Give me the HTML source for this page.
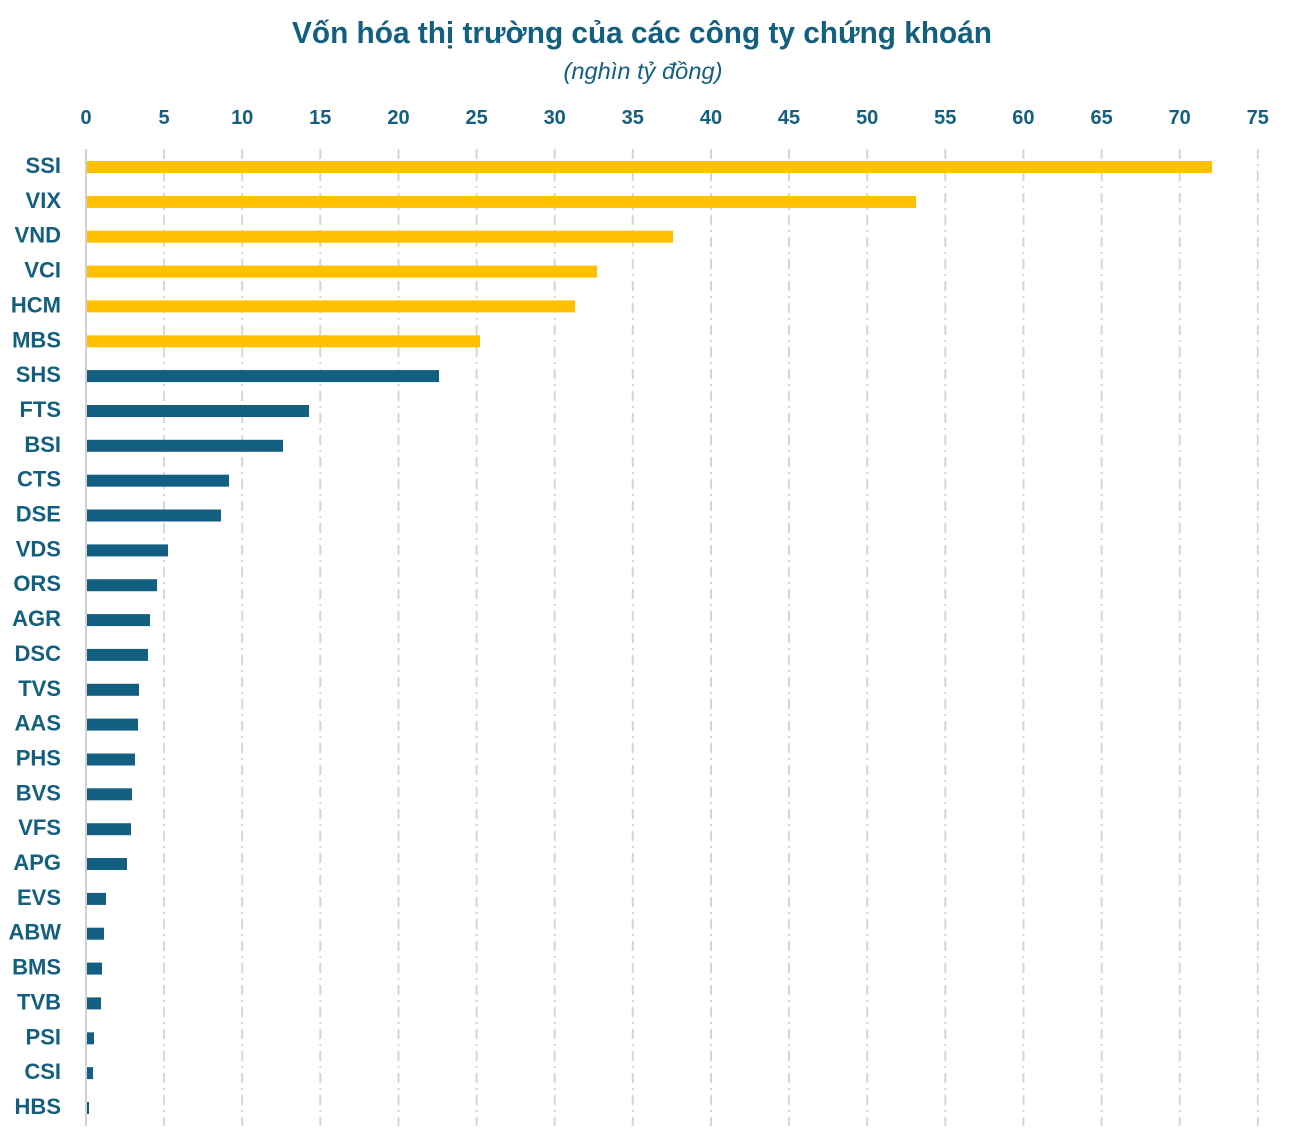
<!DOCTYPE html>
<html>
<head>
<meta charset="utf-8">
<style>
html,body{margin:0;padding:0;background:#fff;}
svg{display:block;}
</style>
</head>
<body>
<svg width="1290" height="1144" viewBox="0 0 1290 1144" xmlns="http://www.w3.org/2000/svg">
<rect width="1290" height="1144" fill="#fff"/>
<text x="642" y="43" text-anchor="middle" font-family="Liberation Sans, DejaVu Sans, sans-serif" font-weight="bold" font-size="31" fill="#135f80" textLength="700" lengthAdjust="spacingAndGlyphs">Vốn hóa thị trường của các công ty chứng khoán</text>
<text x="643" y="79" text-anchor="middle" font-family="Liberation Sans, DejaVu Sans, sans-serif" font-style="italic" font-size="23" fill="#135f80" textLength="159" lengthAdjust="spacingAndGlyphs">(nghìn tỷ đồng)</text>
<g stroke="#d6d6d6" stroke-width="2" stroke-dasharray="10 5 2 5">
<line x1="164.1" y1="149" x2="164.1" y2="1126"/>
<line x1="242.2" y1="149" x2="242.2" y2="1126"/>
<line x1="320.3" y1="149" x2="320.3" y2="1126"/>
<line x1="398.5" y1="149" x2="398.5" y2="1126"/>
<line x1="476.6" y1="149" x2="476.6" y2="1126"/>
<line x1="554.7" y1="149" x2="554.7" y2="1126"/>
<line x1="632.8" y1="149" x2="632.8" y2="1126"/>
<line x1="711" y1="149" x2="711" y2="1126"/>
<line x1="789" y1="149" x2="789" y2="1126"/>
<line x1="867.2" y1="149" x2="867.2" y2="1126"/>
<line x1="945.3" y1="149" x2="945.3" y2="1126"/>
<line x1="1023.4" y1="149" x2="1023.4" y2="1126"/>
<line x1="1101.6" y1="149" x2="1101.6" y2="1126"/>
<line x1="1179.7" y1="149" x2="1179.7" y2="1126"/>
<line x1="1257.8" y1="149" x2="1257.8" y2="1126"/>
</g>
<line x1="86" y1="149" x2="86" y2="1126" stroke="#d0d0d0" stroke-width="2"/>
<g font-family="Liberation Sans, DejaVu Sans, sans-serif" font-weight="bold" font-size="20" fill="#135f80" text-anchor="middle">
<text x="86" y="124">0</text>
<text x="164.1" y="124">5</text>
<text x="242.2" y="124">10</text>
<text x="320.3" y="124">15</text>
<text x="398.5" y="124">20</text>
<text x="476.6" y="124">25</text>
<text x="554.7" y="124">30</text>
<text x="632.8" y="124">35</text>
<text x="711" y="124">40</text>
<text x="789" y="124">45</text>
<text x="867.2" y="124">50</text>
<text x="945.3" y="124">55</text>
<text x="1023.4" y="124">60</text>
<text x="1101.6" y="124">65</text>
<text x="1179.7" y="124">70</text>
<text x="1257.8" y="124">75</text>
</g>
<g fill="#ffc000">
<rect x="87" y="161" width="1125" height="12"/>
<rect x="87" y="195.9" width="829" height="12"/>
<rect x="87" y="230.7" width="586" height="12"/>
<rect x="87" y="265.6" width="510" height="12"/>
<rect x="87" y="300.4" width="488" height="12"/>
<rect x="87" y="335.3" width="393" height="12"/>
</g>
<g fill="#135f82">
<rect x="87" y="370.1" width="352" height="12"/>
<rect x="87" y="405" width="222" height="12"/>
<rect x="87" y="439.8" width="196" height="12"/>
<rect x="87" y="474.7" width="142" height="12"/>
<rect x="87" y="509.5" width="134" height="12"/>
<rect x="87" y="544.4" width="81" height="12"/>
<rect x="87" y="579.2" width="70" height="12"/>
<rect x="87" y="614.1" width="63" height="12"/>
<rect x="87" y="648.9" width="61" height="12"/>
<rect x="87" y="683.8" width="52" height="12"/>
<rect x="87" y="718.6" width="51" height="12"/>
<rect x="87" y="753.5" width="48" height="12"/>
<rect x="87" y="788.3" width="45" height="12"/>
<rect x="87" y="823.2" width="44" height="12"/>
<rect x="87" y="858" width="40" height="12"/>
<rect x="87" y="892.9" width="19" height="12"/>
<rect x="87" y="927.7" width="17" height="12"/>
<rect x="87" y="962.6" width="15" height="12"/>
<rect x="87" y="997.4" width="14" height="12"/>
<rect x="87" y="1032.3" width="7" height="12"/>
<rect x="87" y="1067.1" width="6" height="12"/>
<rect x="87" y="1102" width="2" height="12"/>
</g>
<g font-family="Liberation Sans, DejaVu Sans, sans-serif" font-weight="bold" font-size="22" fill="#135f80" text-anchor="end">
<text x="61" y="173">SSI</text>
<text x="61" y="207.9">VIX</text>
<text x="61" y="242.7">VND</text>
<text x="61" y="277.6">VCI</text>
<text x="61" y="312.4">HCM</text>
<text x="61" y="347.3">MBS</text>
<text x="61" y="382.1">SHS</text>
<text x="61" y="417">FTS</text>
<text x="61" y="451.8">BSI</text>
<text x="61" y="486.7">CTS</text>
<text x="61" y="521.5">DSE</text>
<text x="61" y="556.4">VDS</text>
<text x="61" y="591.2">ORS</text>
<text x="61" y="626.1">AGR</text>
<text x="61" y="660.9">DSC</text>
<text x="61" y="695.8">TVS</text>
<text x="61" y="730.6">AAS</text>
<text x="61" y="765.5">PHS</text>
<text x="61" y="800.3">BVS</text>
<text x="61" y="835.2">VFS</text>
<text x="61" y="870">APG</text>
<text x="61" y="904.9">EVS</text>
<text x="61" y="939.7">ABW</text>
<text x="61" y="974.6">BMS</text>
<text x="61" y="1009.4">TVB</text>
<text x="61" y="1044.3">PSI</text>
<text x="61" y="1079.1">CSI</text>
<text x="61" y="1114">HBS</text>
</g>
</svg>
</body>
</html>
